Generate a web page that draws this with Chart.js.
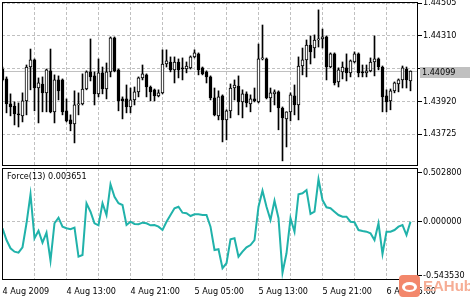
<!DOCTYPE html>
<html>
<head>
<meta charset="utf-8">
<script src="https://cdn.jsdelivr.net/npm/chart.js@4.4.1/dist/chart.umd.min.js"></script>
<style>
  body { margin: 0; background: #fff; }
  #wrap { position: relative; width: 470px; height: 300px; overflow: hidden;
          font-family: 'DejaVu Sans Condensed', 'DejaVu Sans', sans-serif; }
  .pane { position: absolute; left: 0; width: 470px; }
  #forceLabel { position: absolute; left: 7px; top: 171px; font-size: 9px; line-height: 11px; color: #000; }
  #logo { position: absolute; left: 399px; top: 275px; width: 21px; height: 22px;
          background: #f3876b; border-radius: 4px; }
  #logo .face { position: absolute; left: 3px; top: 7px; width: 15px; height: 10px;
                background: #fff; border-radius: 50%; }
  #logo .nose { position: absolute; left: 6px; top: 10px; width: 9px; height: 5px;
                background: #f3876b; border-radius: 50%; }
  #logoText { position: absolute; left: 423px; top: 277px; font: bold 15px 'Liberation Sans', sans-serif;
              color: #f6ad95; }
</style>
</head>
<body>
<div id="wrap">
  <div class="pane" style="top:0;height:168px"><canvas id="mainChart"></canvas></div>
  <div class="pane" style="top:168px;height:132px"><canvas id="forceChart"></canvas></div>
  <div id="forceLabel"></div>
  <div id="logo"><div class="face"></div><div class="nose"></div></div>
  <div id="logoText">EAHub</div>
</div>
<script>
// EURUSD M30, 4 Aug 2009 05:00 .. 6 Aug 2009 08:00
const opens = [
  1.44112, 1.44053, 1.43904, 1.43892, 1.43845, 1.43833, 1.43922, 1.44124, 1.44166, 1.43999,
  1.44023, 1.43970, 1.44101, 1.43857, 1.44047, 1.44047, 1.43863, 1.43809, 1.43785, 1.43898,
  1.43904, 1.43993, 1.44095, 1.44071, 1.43964, 1.44089, 1.43993, 1.44095, 1.44297, 1.44107,
  1.43934, 1.43934, 1.43886, 1.43928, 1.43976, 1.44059, 1.44077, 1.44005, 1.43988, 1.43952,
  1.43970, 1.44142, 1.44154, 1.44107, 1.44154, 1.44119, 1.44112, 1.44119, 1.44184, 1.44202,
  1.44119, 1.44095, 1.44065, 1.43940, 1.43833, 1.43952, 1.43809, 1.43863, 1.43999, 1.44011,
  1.43916, 1.43964, 1.43904, 1.43934, 1.43916, 1.44172, 1.44172, 1.43940, 1.43964, 1.43976,
  1.43880, 1.43815, 1.43857, 1.43952, 1.43898, 1.44130, 1.44166, 1.44255, 1.44237, 1.44285,
  1.44291, 1.44303, 1.44124, 1.44202, 1.44035, 1.44095, 1.44119, 1.44089, 1.44154, 1.44202,
  1.44095, 1.44089, 1.44101, 1.44154, 1.44172, 1.44124, 1.43952, 1.43922, 1.43982, 1.44023,
  1.44047, 1.44112, 1.44041
];
const highs = [
  1.44124, 1.44065, 1.43964, 1.43916, 1.43910, 1.43970, 1.44136, 1.44231, 1.44172, 1.44059,
  1.44065, 1.44112, 1.44231, 1.44077, 1.44071, 1.44053, 1.43934, 1.43839, 1.43982, 1.43970,
  1.44083, 1.44101, 1.44291, 1.44095, 1.44172, 1.44124, 1.44148, 1.44303, 1.44303, 1.44112,
  1.43946, 1.44017, 1.43999, 1.44005, 1.44065, 1.44136, 1.44083, 1.44011, 1.43993, 1.43988,
  1.44226, 1.44226, 1.44184, 1.44184, 1.44172, 1.44178, 1.44154, 1.44190, 1.44226, 1.44208,
  1.44124, 1.44101, 1.44071, 1.43999, 1.43982, 1.43958, 1.43869, 1.44023, 1.44047, 1.44071,
  1.43988, 1.43976, 1.43958, 1.43999, 1.44261, 1.44374, 1.44178, 1.43999, 1.43988, 1.43982,
  1.43886, 1.43857, 1.43970, 1.44017, 1.44184, 1.44237, 1.44285, 1.44309, 1.44315, 1.44464,
  1.44350, 1.44309, 1.44208, 1.44208, 1.44119, 1.44154, 1.44202, 1.44166, 1.44214, 1.44208,
  1.44136, 1.44136, 1.44178, 1.44309, 1.44178, 1.44130, 1.43988, 1.43993, 1.44035, 1.44053,
  1.44130, 1.44124, 1.44101
];
const lows = [
  1.44041, 1.43851, 1.43833, 1.43779, 1.43767, 1.43797, 1.43839, 1.43988, 1.43863, 1.43791,
  1.43857, 1.43857, 1.43851, 1.43791, 1.43928, 1.43839, 1.43797, 1.43744, 1.43672, 1.43839,
  1.43898, 1.43988, 1.44041, 1.43898, 1.43946, 1.43964, 1.43934, 1.44065, 1.44095, 1.43863,
  1.43815, 1.43851, 1.43851, 1.43898, 1.43946, 1.44047, 1.43946, 1.43922, 1.43922, 1.43946,
  1.43964, 1.44124, 1.44095, 1.44029, 1.44059, 1.44047, 1.44089, 1.44112, 1.44178, 1.44077,
  1.44077, 1.44029, 1.43928, 1.43833, 1.43809, 1.43678, 1.43690, 1.43821, 1.43928, 1.43839,
  1.43821, 1.43886, 1.43857, 1.43916, 1.43910, 1.44166, 1.43934, 1.43857, 1.43898, 1.43750,
  1.43565, 1.43648, 1.43803, 1.43839, 1.43809, 1.44077, 1.44065, 1.44142, 1.44178, 1.44243,
  1.44237, 1.44047, 1.44119, 1.44017, 1.44005, 1.44053, 1.44041, 1.44065, 1.44148, 1.44065,
  1.44065, 1.44065, 1.44095, 1.44071, 1.44107, 1.43857, 1.43857, 1.43869, 1.43970, 1.43976,
  1.43999, 1.43999, 1.43982
];
const closes = [
  1.44047, 1.43904, 1.43886, 1.43845, 1.43839, 1.43922, 1.44124, 1.44166, 1.43999, 1.44029,
  1.43970, 1.44107, 1.43857, 1.44047, 1.43982, 1.43857, 1.43803, 1.43785, 1.43898, 1.43904,
  1.43993, 1.44095, 1.44065, 1.43964, 1.44089, 1.43993, 1.44095, 1.44297, 1.44101, 1.43922,
  1.43922, 1.43886, 1.43928, 1.43976, 1.44059, 1.44083, 1.44005, 1.43976, 1.43952, 1.43970,
  1.44142, 1.44160, 1.44107, 1.44154, 1.44107, 1.44112, 1.44130, 1.44184, 1.44208, 1.44107,
  1.44083, 1.44065, 1.43940, 1.43839, 1.43946, 1.43809, 1.43863, 1.43999, 1.44017, 1.43916,
  1.43964, 1.43910, 1.43934, 1.43922, 1.44172, 1.44178, 1.43940, 1.43970, 1.43976, 1.43880,
  1.43821, 1.43857, 1.43958, 1.43898, 1.44130, 1.44166, 1.44255, 1.44214, 1.44285, 1.44291,
  1.44303, 1.44124, 1.44202, 1.44029, 1.44107, 1.44124, 1.44089, 1.44160, 1.44202, 1.44089,
  1.44089, 1.44101, 1.44154, 1.44172, 1.44124, 1.43946, 1.43916, 1.43982, 1.44029, 1.44047,
  1.44119, 1.44047, 1.44099
];
// Force Index (13)
const force = [
  -0.064, -0.184, -0.268, -0.303, -0.313, -0.258, -0.013, 0.283, -0.166, -0.089,
  -0.211, -0.109, -0.395, -0.013, 0.044, -0.048, -0.064, -0.074, -0.058, -0.354,
  -0.337, 0.191, 0.105, -0.013, -0.034, 0.191, 0.071, 0.385, 0.258, 0.191,
  0.173, -0.031, 0.003, -0.020, -0.023, -0.007, -0.013, -0.034, -0.031, -0.048,
  -0.082, 0.003, 0.071, 0.140, 0.156, 0.095, 0.089, 0.061, 0.079, 0.079,
  0.071, 0.071, -0.048, -0.286, -0.278, -0.472, -0.421, -0.176, -0.166, -0.354,
  -0.303, -0.258, -0.235, -0.184, 0.156, 0.319, 0.156, 0.020, 0.217, 0.038,
  -0.517, -0.319, 0.038, -0.099, 0.283, 0.293, 0.326, 0.082, 0.105, 0.436,
  0.224, 0.150, 0.140, 0.105, 0.071, 0.054, 0.054, 0.003, -0.003, -0.082,
  -0.092, -0.099, -0.115, -0.184, -0.013, -0.326, -0.099, -0.099, -0.082, -0.048,
  -0.031, -0.133, 0.003651
];

// axis ticks
const priceTicks = [1.43725, 1.43920, 1.44115, 1.44310, 1.44505];
const forceTicks = [-0.54353, 0, 0.5028];
const gridBars = [0, 8, 16, 24, 32, 40, 48, 56, 64, 72, 80, 88, 96];
const timeBars = [0, 16, 32, 48, 64, 80, 96];
const timeLabels = ['4 Aug 2009', '4 Aug 13:00', '4 Aug 21:00', '5 Aug 05:00',
                    '5 Aug 13:00', '5 Aug 21:00', '6 Aug 05:00'];

const lastClose = closes[closes.length - 1];
const FONT_FAMILY = "'DejaVu Sans Condensed', 'DejaVu Sans', sans-serif";
const GRID = '#c0c0c0';

Chart.defaults.font.family = FONT_FAMILY;
Chart.defaults.font.size = 9;
Chart.defaults.color = '#000';

document.getElementById('forceLabel').textContent = 'Force(13) ' + force[force.length - 1].toFixed(6);

// black frame round the plot area, like the terminal draws it
const framePlugin = {
  id: 'frame',
  afterDraw(chart) {
    const { ctx, chartArea: a } = chart;
    ctx.save();
    ctx.strokeStyle = '#000';
    ctx.lineWidth = 1;
    ctx.strokeRect(a.left + 0.5, a.top + 0.5, a.right - a.left - 1, a.bottom - a.top - 1);
    ctx.restore();
  }
};

// current bid line and its price box on the right scale
const lastPricePlugin = {
  id: 'lastPrice',
  beforeDatasetsDraw(chart) {
    const { ctx, chartArea: a, scales } = chart;
    const py = Math.round(scales.y.getPixelForValue(lastClose)) + 0.5;
    ctx.save();
    ctx.strokeStyle = GRID;
    ctx.lineWidth = 1;
    ctx.beginPath();
    ctx.moveTo(a.left, py);
    ctx.lineTo(a.right, py);
    ctx.stroke();
    ctx.restore();
  },
  afterDraw(chart) {
    const { ctx, chartArea: a, scales } = chart;
    const py = Math.round(scales.y.getPixelForValue(lastClose));
    ctx.save();
    ctx.fillStyle = GRID;
    ctx.fillRect(a.right + 2, py - 4, chart.width - a.right - 2, 11);
    ctx.fillStyle = '#000';
    ctx.font = '9px ' + FONT_FAMILY;
    ctx.textBaseline = 'middle';
    ctx.fillText(lastClose.toFixed(5), a.right + 4, py + 1.5);
    ctx.restore();
  }
};

// keep the plot area where the terminal has it, labels may spill over
function noPadding(s) {
  s.paddingTop = 0;
  s.paddingBottom = 0;
  s.paddingLeft = 0;
  s.paddingRight = 0;
}

function timeAxis(showLabels) {
  return {
    type: 'linear',
    min: -0.125,
    max: 103.875,
    offset: false,
    afterBuildTicks: s => { s.ticks = gridBars.map(v => ({ value: v })); },
    afterFit: s => { s.height = showLabels ? 20 : 0; noPadding(s); },
    grid: { color: GRID, drawTicks: false, offset: false },
    border: { display: false, dash: [3, 2] },
    ticks: {
      display: showLabels,
      autoSkip: false,
      maxRotation: 0,
      align: 'start',
      padding: 6,
      callback: v => {
        const k = timeBars.indexOf(v);
        return k < 0 ? '' : timeLabels[k];
      }
    }
  };
}

const bars = opens.map((o, i) => i);

new Chart(document.getElementById('mainChart'), {
  type: 'bar',
  data: {
    datasets: [
      {
        label: 'wick',
        data: bars.map(i => ({ x: i, y: [lows[i], highs[i]] })),
        backgroundColor: '#000',
        borderWidth: 0,
        barThickness: 1,
        stack: 'candle',
        order: 2
      },
      {
        label: 'body',
        data: bars.map(i => ({ x: i, y: [opens[i], closes[i]] })),
        backgroundColor: bars.map(i => closes[i] >= opens[i] ? '#fff' : '#000'),
        borderColor: '#000',
        borderWidth: 1,
        borderSkipped: false,
        barThickness: 3,
        minBarLength: 1,
        stack: 'candle',
        order: 1
      }
    ]
  },
  options: {
    responsive: true,
    maintainAspectRatio: false,
    animation: false,
    events: [],
    layout: { padding: { left: 2, top: 2, right: 0, bottom: 2 } },
    plugins: { legend: { display: false }, tooltip: { enabled: false } },
    scales: {
      x: timeAxis(false),
      y: {
        position: 'right',
        stacked: false,
        min: 1.435345,
        max: 1.44511,
        afterBuildTicks: s => { s.ticks = priceTicks.map(v => ({ value: v })); },
        afterFit: s => { s.width = 52; noPadding(s); },
        grid: { color: GRID, tickColor: '#000', tickLength: 4 },
        border: { display: false, dash: [3, 2] },
        ticks: {
          autoSkip: false,
          padding: 1,
          callback: v => Math.abs(v - lastClose) < 0.0003 ? '' : v.toFixed(5)
        }
      }
    }
  },
  plugins: [lastPricePlugin, framePlugin]
});

new Chart(document.getElementById('forceChart'), {
  type: 'line',
  data: {
    datasets: [{
      label: 'Force(13)',
      data: bars.map(i => ({ x: i, y: force[i] })),
      borderColor: '#20b2aa',
      borderWidth: 2,
      pointRadius: 0,
      tension: 0
    }]
  },
  options: {
    responsive: true,
    maintainAspectRatio: false,
    animation: false,
    events: [],
    layout: { padding: { left: 2, top: 0, right: 0, bottom: 0 } },
    plugins: { legend: { display: false }, tooltip: { enabled: false } },
    scales: {
      x: timeAxis(true),
      y: {
        position: 'right',
        min: -0.592,
        max: 0.551,
        afterBuildTicks: s => { s.ticks = forceTicks.map(v => ({ value: v })); },
        afterFit: s => { s.width = 52; noPadding(s); },
        grid: {
          color: c => (c.tick && c.tick.value === 0 ? GRID : 'rgba(0,0,0,0)'),
          tickColor: '#000',
          tickLength: 4
        },
        border: { display: false, dash: [3, 2] },
        ticks: { autoSkip: false, padding: 1, callback: v => v.toFixed(6) }
      }
    }
  },
  plugins: [framePlugin]
});
</script>
</body>
</html>
